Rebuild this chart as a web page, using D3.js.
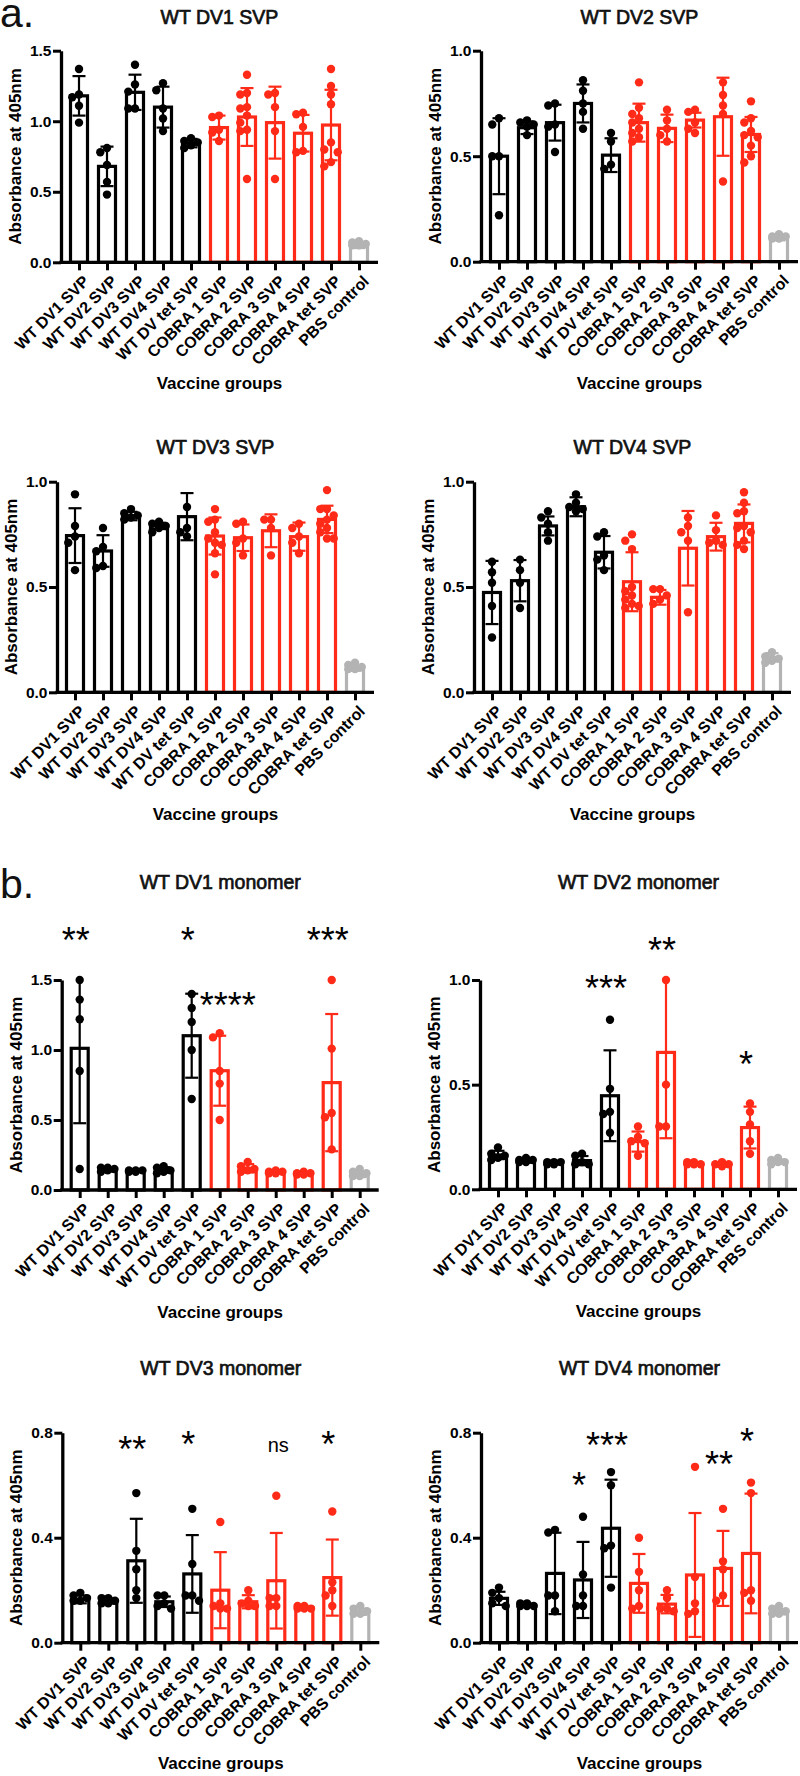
<!DOCTYPE html>
<html><head><meta charset="utf-8">
<script src="https://cdn.jsdelivr.net/npm/d3@7"></script>
<style>
body{margin:0;background:#fff}
svg{display:block}
text{font-family:"Liberation Sans",Arial,Helvetica,sans-serif}
</style>
</head><body>
<svg id="fig" width="800" height="1776"></svg>
<script>
// ---------- categories ----------
const groups = ["WT DV1 SVP","WT DV2 SVP","WT DV3 SVP","WT DV4 SVP","WT DV tet SVP",
  "COBRA 1 SVP","COBRA 2 SVP","COBRA 3 SVP","COBRA 4 SVP","COBRA tet SVP","PBS control"];
const groupKind = ["wt","wt","wt","wt","wt","cobra","cobra","cobra","cobra","cobra","pbs"];

// ---------- panel a: SVP antigens ----------
const meansA1 = [1.18, 0.68, 1.205, 1.10, 0.845, 0.955, 1.03, 0.99, 0.915, 0.973, 0.116];
const sdA1    = [0.14, 0.14, 0.125, 0.145, 0.03, 0.085, 0.205, 0.255, 0.13, 0.25, 0.015];
const ptsA1 = [[1.37,1.19,1.17,1.11,0.99],[0.81,0.78,0.69,0.57,0.48],[1.40,1.26,1.21,1.09,1.09],
  [1.27,1.22,1.09,1.02,0.93],[0.88,0.86,0.85,0.83,0.81],[1.04,1.03,0.94,0.92,0.86],
  [1.33,1.20,1.19,1.10,1.09,1.04,0.99,0.94,0.93,0.59],[1.20,1.19,1.10,0.93,0.59],
  [1.06,1.05,0.96,0.79,0.78],[1.37,1.25,1.19,1.12,0.85,0.80,0.78,0.71,0.68],[0.15,0.14,0.13,0.12,0.12]];

const meansA2 = [0.50, 0.635, 0.659, 0.75, 0.505, 0.659, 0.632, 0.671, 0.687, 0.603, 0.111];
const sdA2    = [0.18, 0.03, 0.085, 0.09, 0.08, 0.09, 0.065, 0.035, 0.185, 0.083, 0.01];
const ptsA2 = [[0.68,0.65,0.50,0.50,0.22],[0.67,0.66,0.65,0.64,0.60],[0.75,0.74,0.65,0.64,0.52],
  [0.86,0.81,0.75,0.71,0.63],[0.61,0.57,0.46,0.44],[0.85,0.73,0.70,0.68,0.66,0.63,0.61,0.59,0.57],
  [0.72,0.67,0.63,0.60,0.57],[0.72,0.71,0.66,0.63,0.61],[0.85,0.79,0.74,0.70,0.38],
  [0.76,0.68,0.66,0.62,0.60,0.59,0.55,0.50,0.47],[0.13,0.12,0.12,0.11,0.11]];

const meansA3 = [0.744, 0.671, 0.837, 0.79, 0.834, 0.742, 0.734, 0.767, 0.739, 0.821, 0.114];
const sdA3    = [0.13, 0.075, 0.02, 0.015, 0.112, 0.088, 0.063, 0.078, 0.067, 0.065, 0.012];
const ptsA3 = [[0.94,0.79,0.74,0.71,0.58],[0.78,0.69,0.67,0.60,0.59],[0.87,0.85,0.84,0.83,0.82],
  [0.81,0.80,0.79,0.78,0.76],[0.88,0.78,0.76,0.74],[0.87,0.82,0.81,0.76,0.73,0.71,0.70,0.66,0.56],
  [0.81,0.80,0.73,0.71,0.65],[0.82,0.82,0.78,0.65],[0.80,0.78,0.74,0.71,0.66],
  [0.96,0.87,0.87,0.84,0.82,0.80,0.78,0.76,0.73,0.73],[0.14,0.13,0.12,0.11,0.11]];

const meansA4 = [0.474, 0.53, 0.79, 0.881, 0.665, 0.525, 0.451, 0.684, 0.739, 0.802, 0.166];
const sdA4    = [0.15, 0.098, 0.045, 0.045, 0.077, 0.14, 0.035, 0.177, 0.066, 0.09, 0.02];
const ptsA4 = [[0.62,0.57,0.52,0.41,0.26],[0.63,0.58,0.52,0.40],[0.86,0.83,0.80,0.76,0.72],
  [0.94,0.90,0.88,0.87,0.86],[0.76,0.74,0.65,0.63,0.58],[0.75,0.72,0.68,0.50,0.48,0.46,0.44,0.42,0.41,0.40],
  [0.49,0.49,0.46,0.44,0.42],[0.83,0.79,0.76,0.72,0.38],[0.84,0.77,0.72,0.71,0.70],
  [0.95,0.90,0.86,0.85,0.79,0.78,0.76,0.72,0.70,0.68],[0.19,0.17,0.16,0.15,0.14]];

// ---------- panel b: monomer antigens ----------
const meansB1 = [1.012, 0.143, 0.136, 0.143, 1.102, 0.852, 0.155, 0.126, 0.114, 0.767, 0.112];
const sdB1    = [0.535, 0.012, 0.008, 0.02, 0.30, 0.25, 0.03, 0.01, 0.008, 0.49, 0.02];
const ptsB1 = [[1.50,1.36,1.22,0.85,0.15],[0.16,0.16,0.15,0.14,0.13],[0.14,0.14,0.14,0.13,0.13],
  [0.17,0.16,0.14,0.13,0.12],[1.40,1.30,1.20,1.00,0.65],[1.12,1.09,0.85,0.76,0.50],
  [0.20,0.17,0.15,0.14,0.13],[0.14,0.13,0.13,0.12,0.12],[0.13,0.12,0.12,0.11,0.11],
  [1.50,1.01,0.55,0.52,0.29],[0.15,0.13,0.12,0.10,0.10]];

const meansB2 = [0.164, 0.135, 0.124, 0.137, 0.447, 0.228, 0.654, 0.121, 0.116, 0.295, 0.132];
const sdB2    = [0.02, 0.008, 0.006, 0.022, 0.217, 0.048, 0.41, 0.005, 0.006, 0.10, 0.01];
const ptsB2 = [[0.20,0.17,0.16,0.15,0.14],[0.15,0.14,0.14,0.13,0.13],[0.13,0.13,0.13,0.12,0.12],
  [0.17,0.16,0.13,0.12,0.12],[0.81,0.48,0.37,0.36,0.27],[0.30,0.25,0.23,0.22,0.16],
  [1.00,0.50,0.30,0.30],[0.13,0.13,0.12,0.12,0.12],[0.13,0.12,0.12,0.12,0.11],
  [0.41,0.37,0.31,0.23,0.17],[0.15,0.14,0.13,0.13,0.12]];

const meansB3 = [0.165, 0.159, 0.312, 0.156, 0.262, 0.20, 0.156, 0.236, 0.133, 0.248, 0.118];
const sdB3    = [0.015, 0.01, 0.16, 0.02, 0.148, 0.145, 0.025, 0.182, 0.005, 0.145, 0.012];
const ptsB3 = [[0.19,0.18,0.17,0.16,0.16],[0.17,0.17,0.16,0.15,0.15],[0.57,0.35,0.28,0.20,0.17],
  [0.18,0.18,0.15,0.14,0.13],[0.51,0.30,0.18,0.18,0.16],[0.46,0.15,0.14,0.13,0.13],
  [0.20,0.16,0.15,0.14,0.14],[0.56,0.17,0.17,0.14,0.14],[0.14,0.14,0.13,0.13,0.13],
  [0.50,0.23,0.20,0.18,0.14],[0.14,0.13,0.12,0.11,0.11]];

const meansB4 = [0.169, 0.143, 0.264, 0.239, 0.436, 0.226, 0.147, 0.258, 0.283, 0.34, 0.118];
const sdB4    = [0.025, 0.006, 0.155, 0.145, 0.185, 0.112, 0.035, 0.236, 0.143, 0.228, 0.01];
const ptsB4 = [[0.21,0.19,0.17,0.15,0.14],[0.15,0.15,0.14,0.14,0.14],[0.43,0.42,0.18,0.18,0.12],
  [0.48,0.26,0.18,0.14,0.14],[0.65,0.60,0.37,0.36,0.21],[0.40,0.27,0.20,0.14,0.13],
  [0.20,0.17,0.13,0.13,0.12],[0.67,0.25,0.15,0.12,0.11],[0.51,0.31,0.28,0.18,0.16],
  [0.61,0.57,0.20,0.19,0.16],[0.14,0.13,0.12,0.11,0.11]];

// ---------- significance labels (value = label centre in data units) ----------
const sigB1 = [{group:"WT DV1 SVP",label:"**",at:1.84},{group:"WT DV tet SVP",label:"*",at:1.84},
  {group:"COBRA tet SVP",label:"***",at:1.84},{group:"COBRA 1 SVP",label:"****",at:1.38}];
const sigB2 = [{group:"WT DV tet SVP",label:"***",at:1.0},{group:"COBRA 2 SVP",label:"**",at:1.18},
  {group:"COBRA tet SVP",label:"*",at:0.637}];
const sigB3 = [{group:"WT DV3 SVP",label:"**",at:0.766},{group:"WT DV tet SVP",label:"*",at:0.785},
  {group:"COBRA 3 SVP",label:"ns",at:0.747},{group:"COBRA tet SVP",label:"*",at:0.785}];
const sigB4 = [{group:"WT DV4 SVP",label:"*",at:0.632},{group:"WT DV tet SVP",label:"***",at:0.782},
  {group:"COBRA 4 SVP",label:"**",at:0.711},{group:"COBRA tet SVP",label:"*",at:0.798}];

// ---------- tick values ----------
const ticks15 = [0, 0.5, 1.0, 1.5];
const ticks10 = [0, 0.5, 1.0];
const ticks08 = [0, 0.4, 0.8];

// ---------- panel definitions ----------
const panels = [
  {title:"WT DV1 SVP", means:meansA1, sd:sdA1, pts:ptsA1, max:1.5, ticks:ticks15, sig:[], lay:{ax:61, top:50.7, base:262.3, titleY:17, xlabY:383}},
  {title:"WT DV2 SVP", means:meansA2, sd:sdA2, pts:ptsA2, max:1.0, ticks:ticks10, sig:[], lay:{ax:481, top:50.7, base:261.7, titleY:17, xlabY:383}},
  {title:"WT DV3 SVP", means:meansA3, sd:sdA3, pts:ptsA3, max:1.0, ticks:ticks10, sig:[], lay:{ax:57, top:481.7, base:692.3, titleY:447, xlabY:814}},
  {title:"WT DV4 SVP", means:meansA4, sd:sdA4, pts:ptsA4, max:1.0, ticks:ticks10, sig:[], lay:{ax:474, top:481.7, base:692.3, titleY:447, xlabY:814}},
  {title:"WT DV1 monomer", means:meansB1, sd:sdB1, pts:ptsB1, max:1.5, ticks:ticks15, sig:sigB1, lay:{ax:61.7, top:980, base:1190, titleY:882, xlabY:1311.5}},
  {title:"WT DV2 monomer", means:meansB2, sd:sdB2, pts:ptsB2, max:1.0, ticks:ticks10, sig:sigB2, lay:{ax:480, top:980, base:1189.3, titleY:882, xlabY:1310.5}},
  {title:"WT DV3 monomer", means:meansB3, sd:sdB3, pts:ptsB3, max:0.8, ticks:ticks08, sig:sigB3, lay:{ax:62.3, top:1432.7, base:1642.7, titleY:1368, xlabY:1763}},
  {title:"WT DV4 monomer", means:meansB4, sd:sdB4, pts:ptsB4, max:0.8, ticks:ticks08, sig:sigB4, lay:{ax:481, top:1432.7, base:1642.7, titleY:1368, xlabY:1763}}
];

const colour = {wt:"#000000", cobra:"#ff2a17", pbs:"#b3b3b3"};
const svg = d3.select("#fig");

// panel letters
svg.append("text").attr("x",0).attr("y",27).attr("font-size",41).attr("fill","#111").text("a.");
svg.append("text").attr("x",0).attr("y",898).attr("font-size",41).attr("fill","#111").text("b.");

function swarm(vals, y, r){
  const items = vals.map(v => ({v, py:y(v), dx:0})).sort((a,b)=>a.py-b.py);
  const placed = [];
  const cands = [0,-1,1].map(k=>k*r*1.6);
  items.forEach(p=>{
    let best=0, bestD=-1;
    for(const off of cands){
      let md = Infinity;
      placed.forEach(q=>{ md = Math.min(md, Math.hypot(q.dx-off, q.py-p.py)); });
      if(md >= 2*r*0.9){ best=off; bestD=md; break; }
      if(md > bestD){ bestD=md; best=off; }
    }
    p.dx = best; placed.push(p);
  });
  return placed;
}

panels.forEach((P, pi)=>{
  const L = P.lay;
  const first = L.ax + 18, last = first + 280, xEnd = last + 19;
  const x = d3.scalePoint().domain(groups).range([first, last]);
  const y = d3.scaleLinear().domain([0, P.max]).range([L.base, L.top]);
  const g = svg.append("g");
  const cx = (L.ax + xEnd)/2;

  // title
  g.append("text").attr("x",cx).attr("y",L.titleY+7).attr("text-anchor","middle")
    .attr("font-size",19.5).attr("fill","#111").attr("stroke","#111").attr("stroke-width",0.7)
    .text(P.title);

  // bars
  const barW = 17;
  g.selectAll("rect.bar").data(groups).join("rect")
    .attr("x", d=>x(d)-barW/2).attr("width", barW)
    .attr("y", (d,i)=>y(P.means[i])).attr("height",(d,i)=>y(0)-y(P.means[i]))
    .attr("fill","#fff").attr("stroke",(d,i)=>colour[groupKind[i]]).attr("stroke-width",3.2);

  // dots
  const r = 4.2;
  groups.forEach((gname,i)=>{
    const sw = swarm(P.pts[i], y, r);
    g.selectAll(null).data(sw).join("circle")
      .attr("cx", d=>x(gname)+d.dx).attr("cy", d=>d.py).attr("r", r)
      .attr("fill", colour[groupKind[i]]);
  });

  // error bars (mean +/- SD)
  groups.forEach((gname,i)=>{
    const m = P.means[i], s = P.sd[i], c = colour[groupKind[i]];
    const hiV = m + s, loV = Math.max(0, m - s);
    const clipped = hiV > P.max;
    const hi = y(Math.min(P.max, hiV)), lo = y(loV);
    const xc = x(gname), cw = 6.5;
    g.append("line").attr("x1",xc).attr("x2",xc).attr("y1",hi).attr("y2",lo)
      .attr("stroke",c).attr("stroke-width",2.2);
    if(!clipped) g.append("line").attr("x1",xc-cw).attr("x2",xc+cw).attr("y1",hi).attr("y2",hi)
      .attr("stroke",c).attr("stroke-width",2.2);
    if(loV>0) g.append("line").attr("x1",xc-cw).attr("x2",xc+cw).attr("y1",lo).attr("y2",lo)
      .attr("stroke",c).attr("stroke-width",2.2);
  });

  // y axis
  const yAx = g.append("g").attr("transform",`translate(${L.ax},0)`)
    .call(d3.axisLeft(y).tickValues(P.ticks).tickFormat(d3.format(".1f")).tickSize(8).tickSizeOuter(0).tickPadding(1.5));
  yAx.select(".domain").attr("stroke","#000").attr("stroke-width",3.3);
  yAx.selectAll(".tick line").attr("stroke","#000").attr("stroke-width",3);
  yAx.selectAll(".tick text").attr("font-size",15.5).attr("font-weight","bold").attr("fill","#000")
    .attr("font-family",'"Liberation Sans",Arial,sans-serif');

  // x axis
  const xAx = g.append("g").attr("transform",`translate(0,${L.base})`)
    .call(d3.axisBottom(x).tickSize(8).tickSizeOuter(0).tickFormat(""));
  xAx.select(".domain").remove();
  xAx.selectAll(".tick line").attr("stroke","#000").attr("stroke-width",3);
  g.append("line").attr("x1",L.ax-1.6).attr("x2",xEnd).attr("y1",L.base).attr("y2",L.base)
    .attr("stroke","#000").attr("stroke-width",3.3);

  // category labels rotated
  g.selectAll("text.cat").data(groups).join("text").attr("class","cat")
    .attr("transform", d=>`translate(${x(d)+11},${L.base+20}) rotate(-45)`)
    .attr("text-anchor","end").attr("font-size",16).attr("font-weight","bold").attr("fill","#000")
    .text(d=>d);

  // axis titles
  g.append("text").attr("transform",`translate(${L.ax-40},${(L.top+L.base)/2}) rotate(-90)`)
    .attr("text-anchor","middle").attr("font-size",17).attr("font-weight","bold").attr("fill","#000")
    .text("Absorbance at 405nm");
  g.append("text").attr("x",cx).attr("y",L.xlabY+6).attr("text-anchor","middle")
    .attr("font-size",17).attr("font-weight","bold").attr("fill","#000").text("Vaccine groups");

  // significance
  P.sig.forEach(s=>{
    const isStar = s.label !== "ns";
    const fs = isStar ? 36 : 20;
    let dx = isStar ? -4 : 2;
    if(s.label === "****") dx = 8;
    g.append("text").attr("x", x(s.group)+dx)
      .attr("y", y(s.at) + (isStar ? 0.575*fs : 0.27*fs))
      .attr("text-anchor","middle").attr("font-size",fs).attr("fill","#000").text(s.label);
  });
});
</script>
</body></html>
